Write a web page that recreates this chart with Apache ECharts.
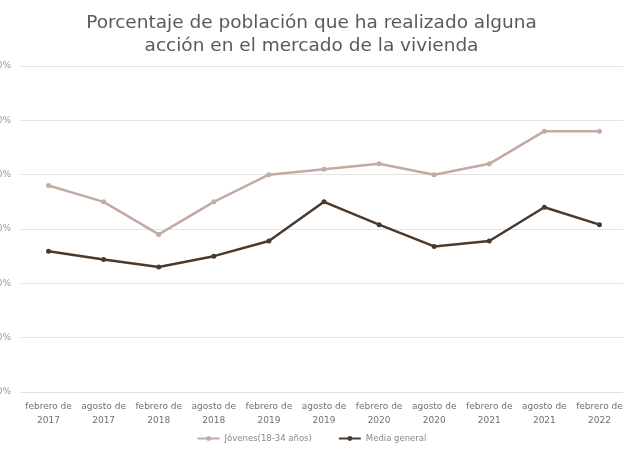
<!DOCTYPE html>
<html>
<head>
<meta charset="utf-8">
<script src="https://cdn.jsdelivr.net/npm/echarts@6/dist/echarts.min.js"></script>
<style>
html,body{margin:0;padding:0;background:#fff;overflow:hidden;}
#c{width:623px;height:458px;}
</style>
</head>
<body>
<div id="c"></div>
<script>
const categories = ["febrero de 2017","agosto de 2017","febrero de 2018","agosto de 2018","febrero de 2019","agosto de 2019","febrero de 2020","agosto de 2020","febrero de 2021","agosto de 2021","febrero de 2022"];
const jovenes = [38, 35, 29, 35, 40, 41, 42, 40, 42, 48, 48];
const mediaGeneral = [25.9, 24.4, 23.0, 25.0, 27.8, 35.0, 30.8, 26.8, 27.8, 34.0, 30.8];
const seriesNames = ["Jóvenes(18-34 años)", "Media general"];
const titleText = "Porcentaje de población que ha realizado alguna\nacción en el mercado de la vivienda";

const chart = echarts.init(document.getElementById('c'));
chart.setOption({
  animation: false,
  backgroundColor: '#fff',
  title: {
    text: titleText,
    left: 'center',
    top: 7,
    textStyle: {fontFamily: 'DejaVu Sans', fontWeight: 'normal', fontSize: 18.5, color: '#5a5a5a', lineHeight: 23}
  },
  legend: {
    bottom: 10,
    left: 'center',
    itemWidth: 22,
    itemHeight: 6,
    itemGap: 26,
    textStyle: {fontFamily: 'DejaVu Sans', fontSize: 8.5, color: '#888'},
    data: seriesNames
  },
  grid: {left: 21, top: 66, width: 606, height: 326, containLabel: false, outerBoundsMode: 'none'},
  xAxis: {
    type: 'category',
    data: categories,
    boundaryGap: true,
    axisLine: {show: true, lineStyle: {color: '#e0e0e0'}},
    axisTick: {show: false},
    axisLabel: {
      interval: 0,
      hideOverlap: false,
      fontFamily: 'DejaVu Sans', fontSize: 9, color: '#707070', lineHeight: 14, margin: 8,
      formatter: v => { const i = v.lastIndexOf(' '); return v.slice(0, i) + '\n' + v.slice(i + 1); }
    }
  },
  yAxis: {
    type: 'value',
    min: 0, max: 60, interval: 10,
    axisLine: {show: false},
    axisTick: {show: false},
    splitLine: {lineStyle: {color: '#e3e3e3', width: 1}},
    axisLabel: {formatter: '{value}%', fontFamily: 'DejaVu Sans', fontSize: 9, color: '#999', margin: 10}
  },
  series: [
    {
      name: seriesNames[0], type: 'line', data: jovenes,
      symbol: 'circle', symbolSize: 5,
      lineStyle: {color: '#c1aba2', width: 2.5},
      itemStyle: {color: '#c1aba2'}
    },
    {
      name: seriesNames[1], type: 'line', data: mediaGeneral,
      symbol: 'circle', symbolSize: 5,
      lineStyle: {color: '#4b3a2c', width: 2.5},
      itemStyle: {color: '#4b3a2c'}
    }
  ]
});
</script>
</body>
</html>
